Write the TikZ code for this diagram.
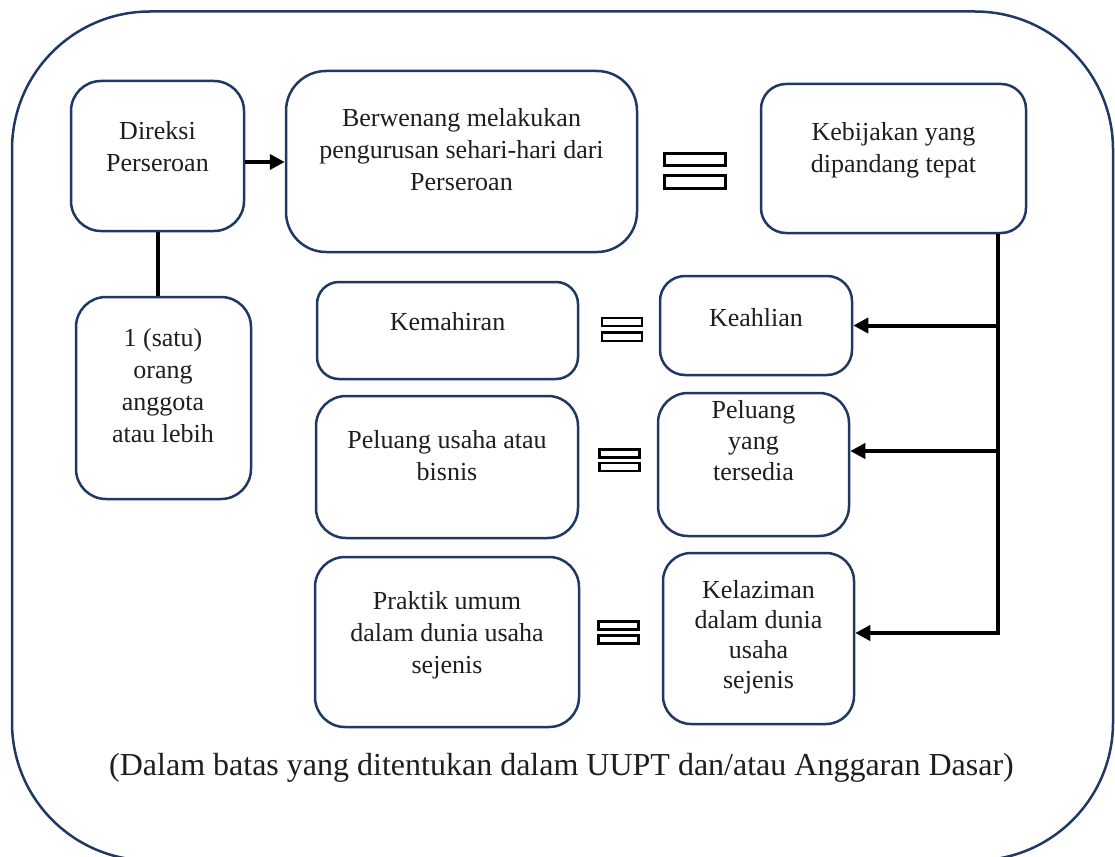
\documentclass[tikz,border=0pt]{standalone}
\usepackage{fontspec}
\setmainfont{Liberation Serif}
\usetikzlibrary{arrows.meta,positioning,calc}
\definecolor{framenavy}{RGB}{31,56,100}
\definecolor{inktext}{RGB}{30,30,30}
\tikzset{
  box/.style={draw=framenavy, line width=2.5pt, rounded corners=25pt,
    fill=white, inner sep=0pt},
  txt/.style={font=\fontsize{26}{32}\selectfont, align=center, text=inktext,
    inner sep=0pt},
  link/.style={line width=4pt, draw=black},
  arrow/.style={-{Triangle[length=15pt,width=15pt]}, line width=4pt, draw=black},
  eqbig/.style={draw=black, line width=2.8pt, fill=white, inner sep=0pt,
    minimum width=61pt, minimum height=12.5pt},
  eqsmall/.style={draw=black, line width=2.5pt, fill=white, inner sep=0pt,
    minimum width=40pt, minimum height=8pt}
}
\begin{document}
\begin{tikzpicture}[x=1pt,y=-1pt]
  \clip (0,0) rectangle (1115,856);
  \node[box, rounded corners=138pt, minimum width=1101pt, minimum height=849pt] (frame) at (562.5,436) {};

  % top row
  \node[box, rounded corners=30pt, minimum width=173pt, minimum height=150pt] (direksi) at (157.5,156) {};
  \node[txt] (direksi-t) at (157.5,147) {Direksi\\Perseroan};
  \node[box, rounded corners=40pt, minimum width=351pt, minimum height=181pt] (wenang) at (461.5,161.5) {};
  \node[txt] (wenang-t) at (461.5,150) {Berwenang melakukan\\pengurusan sehari-hari dari\\Perseroan};
  \node[box, minimum width=265pt, minimum height=149pt] (kebijakan) at (893.5,158.5) {};
  \node[txt] (kebijakan-t) at (893.5,150) {Kebijakan yang\\dipandang tepat};
  \node[eqbig] (eq0a) at (695,159.5) {};
  \node[eqbig, minimum height=13pt] (eq0b) at (695,182) {};

  % members
  \node[box, rounded corners=30pt, minimum width=175pt, minimum height=202pt] (satu) at (163.5,398) {};
  \node[txt] (satu-t) at (163,386) {1 (satu)\\orang\\anggota\\atau lebih};
  \draw[arrow] ([yshift=-6pt]direksi.east) -- ([yshift=-6pt]direksi.east -| wenang.west);
  \draw[link] (direksi.south) -- (direksi.south |- satu.north);

  % pairs
  \node[box, rounded corners=22pt, minimum width=261pt, minimum height=97pt] (kemahiran) at (447.5,330.5) {};
  \node[txt] (kemahiran-t) at (447.5,322) {Kemahiran};
  \node[box, minimum width=192pt, minimum height=99pt] (keahlian) at (756,325.5) {};
  \node[txt] (keahlian-t) at (756,318) {Keahlian};
  \node[eqsmall] (eq1a) at (622,322) {};
  \node[eqsmall, minimum height=8.5pt] (eq1b) at (622,336.5) {};

  \node[box, rounded corners=30pt, minimum width=262pt, minimum height=142pt] (peluang) at (447,467) {};
  \node[txt] (peluang-t) at (447,456) {Peluang usaha atau\\bisnis};
  \node[box, rounded corners=30pt, minimum width=191pt, minimum height=143pt] (tersedia) at (753.5,464.5) {};
  \node[txt, font=\fontsize{26}{31}\selectfont] (tersedia-t) at (753.5,441) {Peluang\\yang\\tersedia};
  \node[eqsmall] (eq2a) at (619.5,453.5) {};
  \node[eqsmall] (eq2b) at (619.5,467) {};

  \node[box, rounded corners=30pt, minimum width=264pt, minimum height=170pt] (praktik) at (447,642) {};
  \node[txt] (praktik-t) at (447,635) {Praktik umum\\dalam dunia usaha\\sejenis};
  \node[box, rounded corners=28pt, minimum width=191pt, minimum height=171pt] (kelaziman) at (758.5,638.5) {};
  \node[txt, font=\fontsize{26}{30}\selectfont] (kelaziman-t) at (758.5,637) {Kelaziman\\dalam dunia\\usaha\\sejenis};
  \node[eqsmall] (eq3a) at (618.5,625.5) {};
  \node[eqsmall] (eq3b) at (618.5,639.5) {};

  % trunk from Kebijakan
  \coordinate (trunk) at (998,633);
  \coordinate (tap) at (998,451);
  \draw[arrow] (kebijakan.south -| trunk) -- (trunk) -- (trunk -| kelaziman.east);
  \draw[arrow] (trunk |- keahlian.east) -- (keahlian.east);
  \draw[arrow] (tap) -- (tap -| tersedia.east);

  \node[txt, font=\fontsize{32}{38}\selectfont] (batas) at (561.5,767.5) {(Dalam batas yang ditentukan dalam UUPT dan/atau Anggaran Dasar)};
\end{tikzpicture}
\end{document}
